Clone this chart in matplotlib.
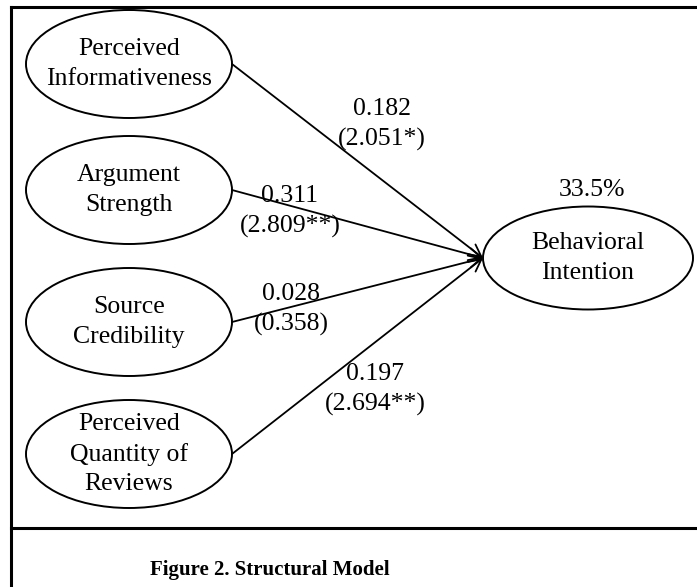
import matplotlib.pyplot as plt
from matplotlib.patches import Ellipse

plt.rcParams['font.family'] = ['Liberation Serif', 'DejaVu Serif']

# data
constructs = ['Perceived\nInformativeness', 'Argument\nStrength',
              'Source\nCredibility', 'Perceived\nQuantity of\nReviews']
coefs = [0.182, 0.311, 0.028, 0.197]
t_values = [2.051, 2.809, 0.358, 2.694]
stars = ['*', '**', '', '**']
target = 'Behavioral\nIntention'
r2 = 33.5
caption = 'Figure 2. Structural Model'

# layout (pixel coords)
left_cx = 129
left_cy = [64, 190, 322, 454]
ell_w, ell_h = 206, 108
tgt_c = (588, 258)
tgt_w, tgt_h = 210, 103
lab_xy = [(382, 115), (290, 202), (291, 300), (375, 380)]
fs = 18.5

fig = plt.figure(figsize=(6.97, 5.87), dpi=100)
ax = fig.add_axes([0, 0, 1, 1])
ax.set_xlim(0, 697)
ax.set_ylim(587, 0)
ax.axis('off')

# frame
ax.plot([11, 11], [587, 7], color='black', lw=2.2, solid_capstyle='projecting')
ax.plot([11, 697], [7, 7], color='black', lw=2.2, solid_capstyle='projecting')
ax.plot([11, 697], [528, 528], color='black', lw=2.2)

for name, cy in zip(constructs, left_cy):
    ax.add_patch(Ellipse((left_cx, cy), ell_w, ell_h, fill=False, lw=1.4, color='black'))
    ax.text(left_cx, cy, name, ha='center', va='center', fontsize=fs, linespacing=1.42)
    ax.annotate('', xy=(tgt_c[0] - tgt_w / 2, tgt_c[1]), xytext=(left_cx + ell_w / 2, cy),
                arrowprops=dict(arrowstyle='->', lw=1.3, color='black',
                                shrinkA=0, shrinkB=0, mutation_scale=22))

ax.add_patch(Ellipse(tgt_c, tgt_w, tgt_h, fill=False, lw=1.4, color='black'))
ax.text(tgt_c[0], tgt_c[1], target, ha='center', va='center', fontsize=fs, linespacing=1.42)
ax.text(592, 196, f'{r2}%', ha='center', va='baseline', fontsize=fs)

for (x, y), b, t, s in zip(lab_xy, coefs, t_values, stars):
    ax.text(x, y, f'{b:.3f}', ha='center', va='baseline', fontsize=fs)
    ax.text(x, y + 31, f'({t:.3f}{s})', ha='center', va='baseline', fontsize=fs)

ax.text(270, 570, caption, ha='center', va='center', fontsize=15, fontweight='bold')

fig.savefig('out.png', dpi=100)
